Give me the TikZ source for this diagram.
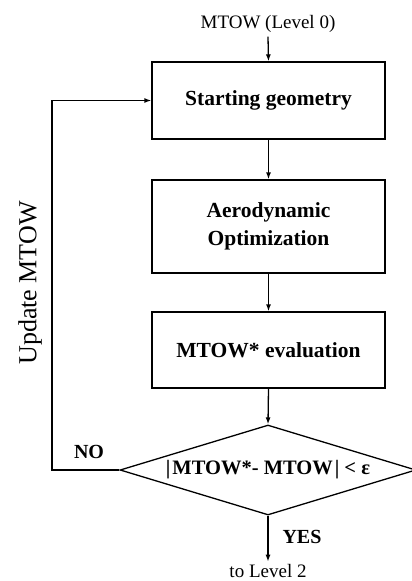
\documentclass[tikz,border=0pt]{standalone}
\usepackage{fontspec}
\setmainfont{Liberation Serif}
\usetikzlibrary{arrows.meta,shapes.geometric}
\begin{document}
\begin{tikzpicture}[x=1pt,y=-1pt,
  line width=1.3pt,
  box/.style={draw,rectangle,minimum width=233pt,inner sep=0pt,align=center,font=\fontsize{21.5}{26}\selectfont\bfseries},
  decision/.style={draw,diamond,aspect=3.29,minimum width=296pt,minimum height=90pt,inner sep=0pt,font=\fontsize{20.5}{24}\selectfont\bfseries},
  flow/.style={-{Latex[length=7pt,width=5pt]}},
  lbl/.style={font=\fontsize{19}{22}\selectfont}
]
\useasboundingbox (0,0) rectangle (412,581);
\node[lbl] (top) at (268,24) {MTOW (Level 0)};
\node[box,minimum height=77pt] (b1) at (268.5,100.5) {Starting geometry};
\node[box,minimum height=93pt] (b2) at (268.5,226.5) {Aerodynamic\\[2pt]Optimization};
\node[box,minimum height=76pt] (b3) at (268.5,350) {MTOW* evaluation};
\node[decision] (d) at (268,470) {\textbar\kern2pt MTOW*- MTOW\kern2pt\textbar\ < ε};
\node[lbl,inner sep=2pt] (out) at (268,571) {to Level 2};
\coordinate (lc) at (52,470);
\coordinate (tc) at (52,100.5);
\draw[flow] (top.south) -- (b1.north);
\draw[flow] (b1.south) -- (b2.north);
\draw[flow] (b2.south) -- (b3.north);
\draw[flow] (b3.south) -- (d.north);
\draw[flow] (d.south) -- (out.north);
\draw[flow] (d.west) -- (lc) -- (tc) -- (b1.west);
\node[font=\fontsize{20}{24}\selectfont\bfseries] (no) at (89,452) {NO};
\node[font=\fontsize{20}{24}\selectfont\bfseries] (yes) at (302,537) {YES};
\node[font=\fontsize{26}{30}\selectfont,rotate=90] (upd) at (30,283) {Update MTOW};
\end{tikzpicture}
\end{document}
